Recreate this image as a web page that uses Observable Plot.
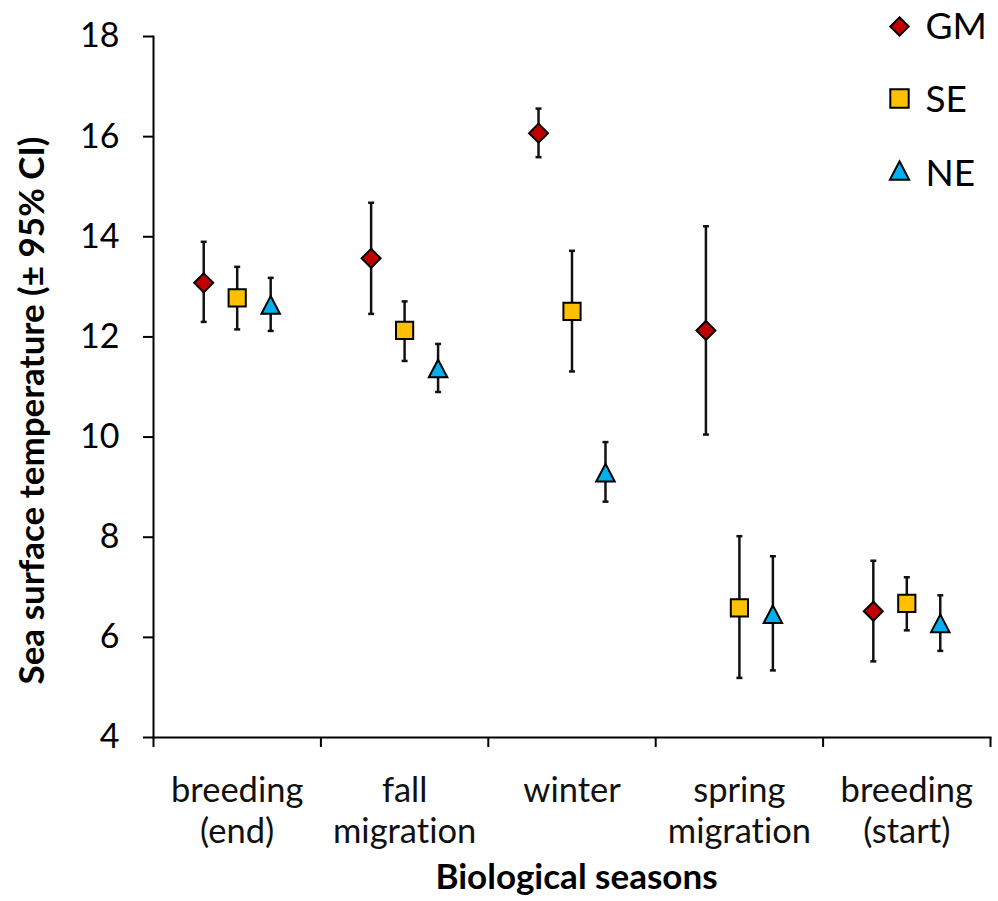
<!DOCTYPE html>
<html><head><meta charset="utf-8">
<script src="https://cdn.jsdelivr.net/npm/d3@7"></script>
<script src="https://cdn.jsdelivr.net/npm/@observablehq/plot@0.6"></script>
<style>html,body{margin:0;padding:0;background:#fff} svg text{font-variant-ligatures:none;font-feature-settings:"liga" 0,"clig" 0,"dlig" 0}</style>
</head><body><div id="chart"></div>
<script>
// ---- data ----
const seasons = ["breeding\n(end)", "fall\nmigration", "winter", "spring\nmigration", "breeding\n(start)"];
const seriesNames = ["GM", "SE", "NE"];
const seriesColors = ["#C00000", "#FFC000", "#00B0F0"];
const gmMean = [13.08, 13.57, 16.07, 12.13, 6.52];
const gmLo   = [12.30, 12.46, 15.59, 10.05, 5.52];
const gmHi   = [13.90, 14.68, 16.56, 14.21, 7.53];
const seMean = [12.78, 12.13, 12.51, 6.59, 6.68];
const seLo   = [12.15, 11.52, 11.31, 5.19, 6.14];
const seHi   = [13.40, 12.71, 13.72, 8.02, 7.20];
const neMean = [12.64, 11.37, 9.29, 6.46, 6.28];
const neLo   = [12.12, 10.90, 8.71, 5.34, 5.73];
const neHi   = [13.18, 11.86, 9.90, 7.62, 6.84];
const yTicks = [4, 6, 8, 10, 12, 14, 16, 18];
const seasonBounds = [0, 1, 2, 3, 4, 5];
const yLabel = "Sea surface temperature (± 95% CI)";
const xLabel = "Biological seasons";

// ---- helpers ----
const FONT = "Lato, 'Open Sans', sans-serif";
const means = [gmMean, seMean, neMean], los = [gmLo, seLo, neLo], his = [gmHi, seHi, neHi];
const offsets = [-0.2, 0, 0.2]; // within-season dodge (fraction of a season)
const rows = [];
seriesNames.forEach((s, k) => seasons.forEach((season, i) => rows.push({
  series: s, k, i, x: i + 0.5 + offsets[k], mean: means[k][i], lo: los[k][i], hi: his[k][i]
})));

const rad = (size) => Math.sqrt(size / Math.PI);
const symbols = {
  GM: {draw(c, size) { const r = rad(size); c.moveTo(0, -r); c.lineTo(r, 0); c.lineTo(0, r); c.lineTo(-r, 0); c.closePath(); }},
  SE: {draw(c, size) { const r = rad(size); c.moveTo(-r, -r); c.lineTo(r, -r); c.lineTo(r, r); c.lineTo(-r, r); c.closePath(); }},
  NE: {draw(c, size) { const r = rad(size); c.moveTo(0, -r); c.lineTo(r * 1.05, r); c.lineTo(-r * 1.05, r); c.closePath(); }}
};
const symR = {GM: 9.5, SE: 8.6, NE: 8.8};
const cap = {draw(c, size) { const r = rad(size); c.moveTo(-r, 0); c.lineTo(r, 0); }};

const marks = [];
// error bars
marks.push(Plot.ruleX(rows, {x: "x", y1: "lo", y2: "hi", stroke: "#111", strokeWidth: 2.5}));
marks.push(Plot.dot(rows, {x: "x", y: "hi", symbol: cap, r: 3, stroke: "#111", strokeWidth: 2.5}));
marks.push(Plot.dot(rows, {x: "x", y: "lo", symbol: cap, r: 3, stroke: "#111", strokeWidth: 2.5}));
// markers
seriesNames.forEach((s, k) => {
  marks.push(Plot.dot(rows.filter(d => d.series === s), {
    x: "x", y: "mean", symbol: symbols[s], r: symR[s], fill: seriesColors[k], stroke: "#000", strokeWidth: 2
  }));
});
// axes
marks.push(Plot.axisY(yTicks, {tickSize: 10, tickPadding: 24, fontSize: 34, strokeWidth: 2, label: null,
  tickFormat: d => String(d)}));
marks.push(Plot.axisX(seasonBounds, {tickSize: 10, tickFormat: () => "", strokeWidth: 2, label: null}));
marks.push(Plot.frame({anchor: "left", strokeWidth: 2}));
marks.push(Plot.frame({anchor: "bottom", strokeWidth: 2}));
// category labels
marks.push(Plot.text(seasons, {x: (d, i) => i + 0.5, frameAnchor: "bottom", lineAnchor: "top", dy: 35,
  fontSize: 34.5, lineHeight: 1.19, fill: "#111"}));
// axis titles
marks.push(Plot.text([xLabel], {frameAnchor: "bottom", lineAnchor: "top", textAnchor: "middle", dy: 127, dx: 4.5,
  fontSize: 35, fontWeight: "bold", fill: "#000"}));
marks.push(Plot.text([yLabel], {frameAnchor: "left", rotate: -90, lineAnchor: "middle", textAnchor: "middle",
  dx: -121, dy: 23.5, fontSize: 35, fontWeight: "bold", fill: "#000"}));
// legend
seriesNames.forEach((s, k) => {
  marks.push(Plot.dot([s], {frameAnchor: "top-right", dx: -91, dy: -10 + k * 72, symbol: symbols[s], r: 9.2,
    fill: seriesColors[k], stroke: "#000", strokeWidth: 2}));
  marks.push(Plot.text([s], {frameAnchor: "top-right", dx: -65, dy: -9.5 + k * 73.5, textAnchor: "start",
    lineAnchor: "middle", fontSize: 37, fill: "#000"}));
});

const chart = Plot.plot({
  width: 998, height: 901,
  marginLeft: 153, marginRight: 8, marginTop: 36, marginBottom: 164,
  x: {domain: [0, 5]},
  y: {domain: [4, 18]},
  style: {fontFamily: FONT, color: "#000", background: "#fff", overflow: "visible"},
  marks
});
document.getElementById("chart").appendChild(chart);
</script>
</body></html>
